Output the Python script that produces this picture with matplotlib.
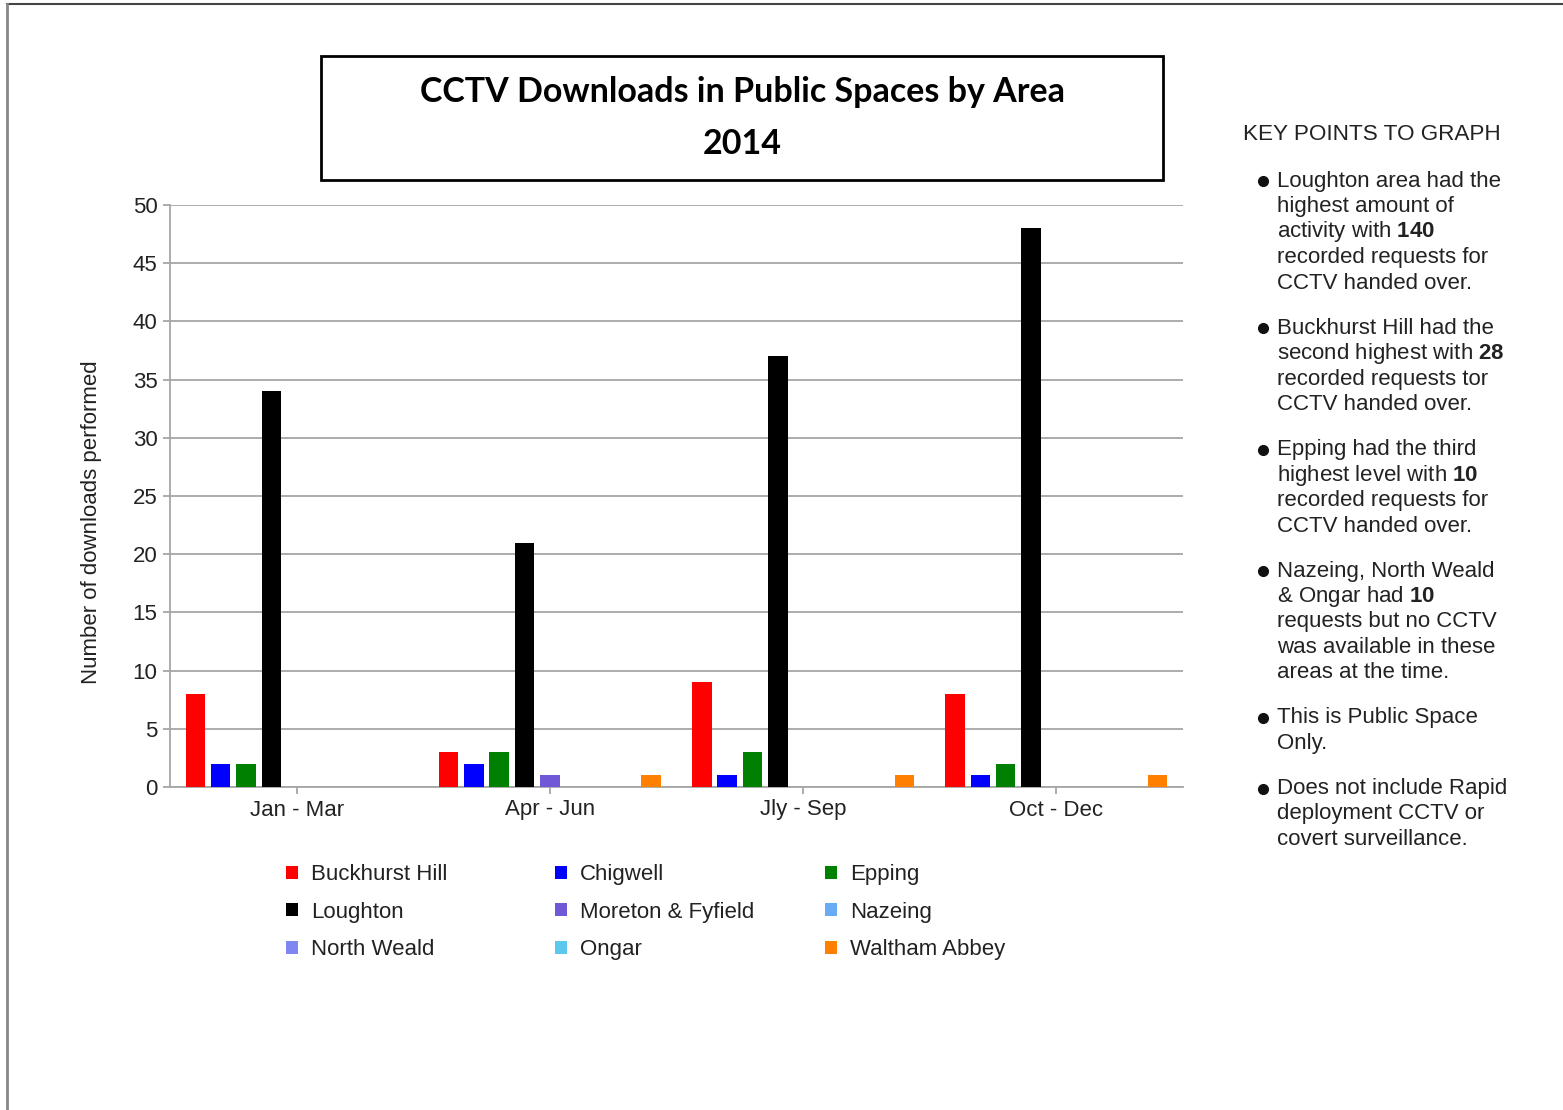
import numpy as np
import matplotlib
matplotlib.use("Agg")
import matplotlib.pyplot as plt
from matplotlib.patches import Patch, Rectangle
from matplotlib.lines import Line2D

plt.rcParams['font.family'] = ['Liberation Sans', 'DejaVu Sans']
plt.rcParams['mathtext.fontset'] = 'custom'
plt.rcParams['mathtext.rm'] = 'Liberation Sans'
plt.rcParams['mathtext.bf'] = 'Liberation Sans:bold'

# data
quarters = ["Jan - Mar", "Apr - Jun", "Jly - Sep", "Oct - Dec"]
areas = ["Buckhurst Hill", "Chigwell", "Epping", "Loughton", "Moreton & Fyfield",
         "Nazeing", "North Weald", "Ongar", "Waltham Abbey"]
buckhurst_hill = [8, 3, 9, 8]
chigwell = [2, 2, 1, 1]
epping = [2, 3, 3, 2]
loughton = [34, 21, 37, 48]
moreton_fyfield = [0, 1, 0, 0]
nazeing = [0, 0, 0, 0]
north_weald = [0, 0, 0, 0]
ongar = [0, 0, 0, 0]
waltham_abbey = [0, 1, 1, 1]
series = [buckhurst_hill, chigwell, epping, loughton, moreton_fyfield,
          nazeing, north_weald, ongar, waltham_abbey]
colors = ["#ff0000", "#0000ff", "#008000", "#000000", "#7158d6",
          "#6aabf5", "#7f86f2", "#5cc9ec", "#ff7f00"]

title_lines = ["CCTV Downloads in Public Spaces by Area", "2014"]
key_title = "KEY POINTS TO GRAPH"
key_points = [
    ["Loughton area had the", "highest amount of", r"activity with $\mathbf{140}$",
     "recorded requests for", "CCTV handed over."],
    ["Buckhurst Hill had the", r"second highest with $\mathbf{28}$",
     "recorded requests tor", "CCTV handed over."],
    ["Epping had the third", r"highest level with $\mathbf{10}$",
     "recorded requests for", "CCTV handed over."],
    ["Nazeing, North Weald", r"& Ongar had $\mathbf{10}$", "requests but no CCTV",
     "was available in these", "areas at the time."],
    ["This is Public Space", "Only."],
    ["Does not include Rapid", "deployment CCTV or", "covert surveillance."],
]

W, H = 1563, 1110
fig = plt.figure(figsize=(W / 100, H / 100), dpi=100)

def fx(px):
    return px / W

def fy(py):
    return 1 - py / H

# page border lines
fig.add_artist(Line2D([fx(7), 1], [fy(4), fy(4)], color="#444444", lw=1.5))
fig.add_artist(Line2D([fx(7), fx(7)], [fy(4), 0], color="#888888", lw=2))

ax = fig.add_axes([fx(170), fy(787), fx(1183) - fx(170), fy(205) - fy(787)])
x = np.arange(len(quarters))
width = 0.077
for i, (vals, c) in enumerate(zip(series, colors)):
    ax.bar(x + (i - 4) * 0.1, vals, width, color=c, edgecolor="none", zorder=3)

ax.set_xlim(-0.5, len(quarters) - 0.5)
ax.set_ylim(0, 50)
ax.set_yticks(range(0, 51, 5))
ax.set_xticks(x)
ax.set_xticklabels(quarters)
ax.grid(axis="y", color="#a6a6a6", lw=1.3, zorder=0)
for s in ["top", "right"]:
    ax.spines[s].set_visible(False)
ax.spines["left"].set_color("#a6a6a6")
ax.spines["bottom"].set_color("#a6a6a6")
ax.spines["left"].set_linewidth(1.3)
ax.spines["bottom"].set_linewidth(1.3)
ax.tick_params(axis="y", colors="#a6a6a6", labelcolor="#222222", labelsize=16,
               length=5, width=1.3, pad=4)
ax.tick_params(axis="x", colors="#a6a6a6", labelcolor="#222222", labelsize=16,
               length=5, width=1.3, pad=4)
ax.set_ylabel("Number of downloads performed", fontsize=16, color="#222222")
ax.yaxis.set_label_coords(-0.067, 0.455)

# title box
fig.add_artist(Rectangle((fx(321), fy(180)), fx(1163) - fx(321), fy(56) - fy(180),
                         fill=False, edgecolor="black", lw=2))
fig.text(fx(742), fy(92), title_lines[0], ha="center", va="center", fontsize=24.5,
         fontweight="bold", family=["Lato", "DejaVu Sans"])
fig.text(fx(742), fy(144), title_lines[1], ha="center", va="center", fontsize=24.5,
         fontweight="bold", family=["Lato", "DejaVu Sans"])

# legend: three columns, filled row by row
handles = [Patch(facecolor=c, edgecolor="none") for c in colors]
for col, left in enumerate([266, 535, 805]):
    idx = [col, col + 3, col + 6]
    leg = fig.legend([handles[i] for i in idx], [areas[i] for i in idx],
                     loc="upper left", bbox_to_anchor=(fx(left), fy(844)), frameon=False,
                     fontsize=16, handlelength=0.54, handleheight=0.54, handletextpad=0.58,
                     labelspacing=0.75, labelcolor="#222222")

# key points panel
fig.text(fx(1243), fy(135), key_title, fontsize=16.2, va="center", color="#222222")
y = 181
for para in key_points:
    for j, line in enumerate(para):
        if j == 0:
            fig.add_artist(Line2D([fx(1263)], [fy(y)], marker="o", markersize=7,
                                  color="#111111", linestyle="none"))
        fig.text(fx(1277), fy(y), line, fontsize=16, va="center", color="#222222")
        y += 25.5
    y += 19.5

fig.savefig("out.png", dpi=100)
